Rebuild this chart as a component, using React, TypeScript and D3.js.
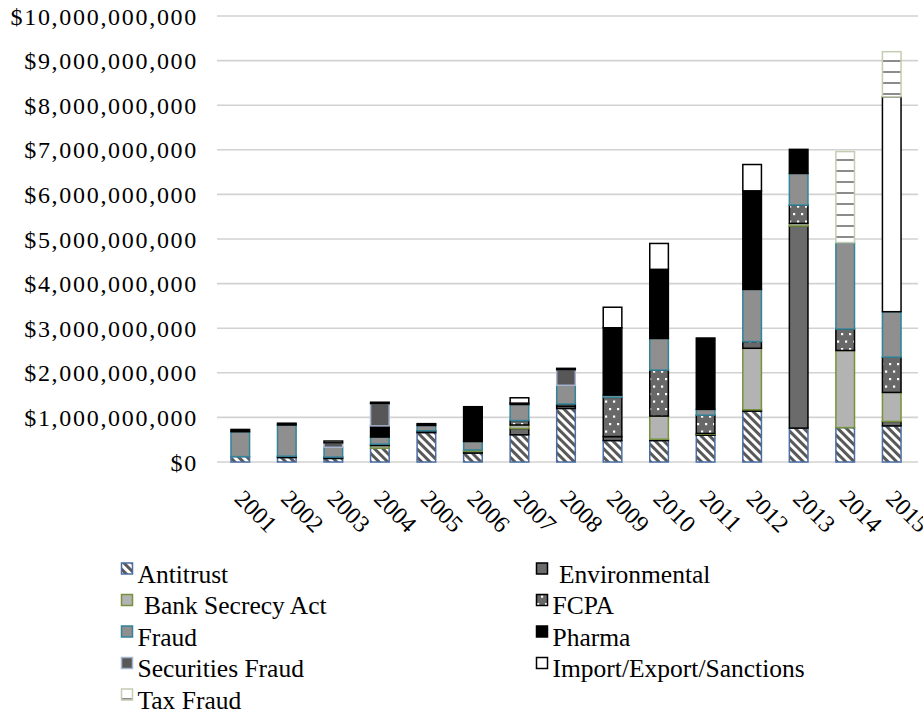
import React, { useRef, useEffect } from "react";
import * as d3 from "d3";

// fines by year, in billions of dollars
const years = ["2001", "2002", "2003", "2004", "2005", "2006", "2007", "2008", "2009", "2010", "2011", "2012", "2013", "2014", "2015"];
const antitrust = [0.12, 0.1, 0.08, 0.31, 0.66, 0.2, 0.61, 1.2, 0.48, 0.48, 0.6, 1.14, 0.76, 0.77, 0.81];
const environmental = [0, 0.03, 0.03, 0, 0.04, 0.04, 0.14, 0.05, 0.09, 0.03, 0.02, 0.03, 4.53, 0, 0.1];
const bankSecrecy = [0, 0, 0, 0.06, 0, 0.03, 0.08, 0, 0, 0.52, 0.02, 1.38, 0.06, 1.73, 0.65];
const fcpa = [0, 0, 0, 0.03, 0, 0, 0.1, 0.05, 0.88, 1.03, 0.41, 0.15, 0.41, 0.48, 0.79];
const fraud = [0.56, 0.7, 0.22, 0.16, 0.12, 0.19, 0.36, 0.42, 0.05, 0.71, 0.13, 1.17, 0.71, 1.94, 1.02];
const pharma = [0.05, 0.04, 0, 0.25, 0.04, 0.78, 0.03, 0, 1.51, 1.55, 1.6, 2.21, 0.54, 0, 0];
const securities = [0, 0, 0.1, 0.5, 0, 0, 0, 0.35, 0, 0, 0, 0, 0, 0, 0];
const importExport = [0, 0, 0.04, 0.03, 0, 0, 0.12, 0.03, 0.46, 0.58, 0, 0.59, 0, 0, 4.82];
const taxFraud = [0, 0, 0, 0, 0, 0, 0, 0, 0, 0, 0, 0, 0, 2.04, 1.01];

const yTicks = [0, 1, 2, 3, 4, 5, 6, 7, 8, 9, 10];

const series = [
  { key: "Antitrust", label: "Antitrust", values: antitrust, fill: "url(#hatch)", stroke: "#4a6ea3" },
  { key: "Environmental", label: " Environmental", values: environmental, fill: "#6b6b6b", stroke: "#000" },
  { key: "BSA", label: " Bank Secrecy Act", values: bankSecrecy, fill: "#b3b3b3", stroke: "#76923c" },
  { key: "FCPA", label: "FCPA", values: fcpa, fill: "url(#dots)", stroke: "#000" },
  { key: "Fraud", label: "Fraud", values: fraud, fill: "#8f8f8f", stroke: "#31849b" },
  { key: "Pharma", label: "Pharma", values: pharma, fill: "#000", stroke: "#000" },
  { key: "Securities", label: "Securities Fraud", values: securities, fill: "#575757", stroke: "#a7b4cf" },
  { key: "ImportExport", label: "Import/Export/Sanctions", values: importExport, fill: "#fff", stroke: "#000" },
  { key: "Tax", label: "Tax Fraud", values: taxFraud, fill: "url(#taxlines)", stroke: "#c4ccb2" },
];

export default function App() {
  const ref = useRef<SVGSVGElement>(null);

  useEffect(() => {
    if (!ref.current) return;
    const svg = d3.select(ref.current);
    svg.selectAll("*").remove();
    const font = "'Liberation Serif', 'Times New Roman', serif";

    // patterns
    const defs = svg.append("defs");
    const hatch = defs
      .append("pattern")
      .attr("id", "hatch")
      .attr("patternUnits", "userSpaceOnUse")
      .attr("width", 6)
      .attr("height", 6)
      .attr("patternTransform", "rotate(-45)");
    hatch.append("rect").attr("width", 6).attr("height", 6).attr("fill", "#fff");
    hatch.append("rect").attr("width", 3).attr("height", 6).attr("fill", "#595959");

    const dots = defs
      .append("pattern")
      .attr("id", "dots")
      .attr("patternUnits", "userSpaceOnUse")
      .attr("width", 8)
      .attr("height", 15);
    dots.append("rect").attr("width", 8).attr("height", 15).attr("fill", "#686868");
    dots.append("rect").attr("x", 1).attr("y", 3).attr("width", 2.2).attr("height", 2.2).attr("fill", "#fff");
    dots.append("rect").attr("x", 5).attr("y", 10.5).attr("width", 2.2).attr("height", 2.2).attr("fill", "#fff");

    const tax = defs
      .append("pattern")
      .attr("id", "taxlines")
      .attr("patternUnits", "userSpaceOnUse")
      .attr("width", 10)
      .attr("height", 11);
    tax.append("rect").attr("width", 10).attr("height", 11).attr("fill", "#fff");
    tax.append("rect").attr("y", 5).attr("width", 10).attr("height", 2).attr("fill", "#8c8c8c");

    // scales
    const x = d3
      .scaleBand<string>()
      .domain(years)
      .range([217, 915])
      .paddingInner(0.6)
      .paddingOuter(0.3);
    const y = d3.scaleLinear().domain([0, 10]).range([462, 16]);

    // gridlines
    svg
      .append("g")
      .selectAll("line")
      .data(yTicks)
      .enter()
      .append("line")
      .attr("x1", 217)
      .attr("x2", 918)
      .attr("y1", (d) => y(d))
      .attr("y2", (d) => y(d))
      .attr("stroke", "#d2d2d2")
      .attr("stroke-width", 1.6);

    // y labels
    const fmt = d3.format(",");
    svg
      .append("g")
      .selectAll("text")
      .data(yTicks)
      .enter()
      .append("text")
      .attr("x", 198)
      .attr("y", (d) => y(d))
      .attr("dy", "0.36em")
      .attr("text-anchor", "end")
      .attr("font-family", font)
      .attr("font-size", 24)
      .attr("letter-spacing", 1.7)
      .attr("fill", "#000")
      .text((d) => "$" + fmt(d * 1e9));

    // stacked bars
    const rows = years.map((yr, i) => {
      const r: any = { year: yr };
      series.forEach((s) => (r[s.key] = s.values[i]));
      return r;
    });
    const stacked = d3.stack<any>().keys(series.map((s) => s.key))(rows);

    stacked.forEach((layer, li) => {
      const s = series[li];
      svg
        .append("g")
        .selectAll("rect")
        .data(layer.filter((d) => d[1] - d[0] > 0))
        .enter()
        .append("rect")
        .attr("x", (d) => x(d.data.year)!)
        .attr("width", x.bandwidth())
        .attr("y", (d) => y(d[1]))
        .attr("height", (d) => y(d[0]) - y(d[1]))
        .attr("fill", s.fill)
        .attr("stroke", s.stroke)
        .attr("stroke-width", 1.5);
    });

    // x labels (the last one runs off the edge, as in the original)
    svg
      .append("g")
      .selectAll("text")
      .data(years)
      .enter()
      .append("text")
      .attr("transform", (d) => `translate(${x(d)! + x.bandwidth() / 2 - 7},500) rotate(45)`)
      .attr("font-family", font)
      .attr("font-size", 24)
      .attr("fill", "#000")
      .text((d) => d);

    // legend
    const rowY = [582.5, 614, 645.5, 677, 708.5];
    const legend = svg.append("g");
    series.forEach((s, i) => {
      const col = i % 2;
      const row = Math.floor(i / 2);
      const mx = col === 0 ? 121.5 : 536.5;
      const base = rowY[row];
      legend
        .append("rect")
        .attr("x", mx)
        .attr("y", base - 19.5)
        .attr("width", 11)
        .attr("height", 11)
        .attr("fill", s.fill)
        .attr("stroke", s.stroke)
        .attr("stroke-width", 1.5);
      legend
        .append("text")
        .attr("x", mx + 16)
        .attr("y", base)
        .attr("font-family", font)
        .attr("font-size", 25.5)
        .attr("fill", "#000")
        .style("white-space", "pre")
        .text(s.label);
    });
  }, []);

  return (
    <svg
      ref={ref}
      width={923}
      height={713}
      style={{ position: "absolute", left: 0, top: 0, background: "#fff" }}
    />
  );
}
